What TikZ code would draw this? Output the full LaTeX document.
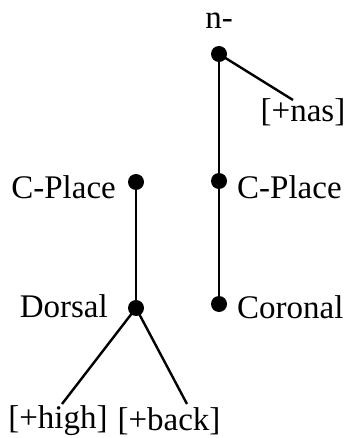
\documentclass[tikz,border=0pt]{standalone}
\usepackage{fontspec}
\setmainfont{Liberation Serif}

\begin{document}
\begin{tikzpicture}[x=1pt,y=-1pt,
  dot/.style={circle,fill=black,inner sep=0pt,minimum size=16pt},
  lab/.style={font=\fontsize{33}{38}\selectfont,inner sep=0pt}]
\useasboundingbox (0,0) rectangle (348,438);

\node[lab] (n) at (219,21) {n-};
\node[dot] (top) at (219,54) {};
\node[lab] (nas) at (303,112) {[+nas]};
\coordinate (nasend) at (293,100);

\node[dot] (cpr) at (219,181) {};
\node[lab,anchor=west] (cprlab) at (237,187) {C-Place};
\node[dot] (cor) at (219,304) {};
\node[lab,anchor=west] (corlab) at (237,307) {Coronal};

\node[dot] (cpl) at (136,182) {};
\node[lab,anchor=east] (cpllab) at (116,187) {C-Place};
\node[dot] (dor) at (136,308) {};
\node[lab,anchor=east] (dorlab) at (108,306) {Dorsal};

\node[lab] (high) at (58,421) {[+high]};
\node[lab] (back) at (169,421) {[+back]};
\coordinate (highend) at (62,404);
\coordinate (backend) at (187,404);

\draw[line width=2.4pt] (top.center) -- (nasend);
\draw[line width=2.4pt] (top.center) -- (cpr.center) -- (cor.center);
\draw[line width=2.4pt] (cpl.center) -- (dor.center);
\draw[line width=2.4pt] (highend) -- (dor.center) -- (backend);

\end{tikzpicture}
\end{document}
